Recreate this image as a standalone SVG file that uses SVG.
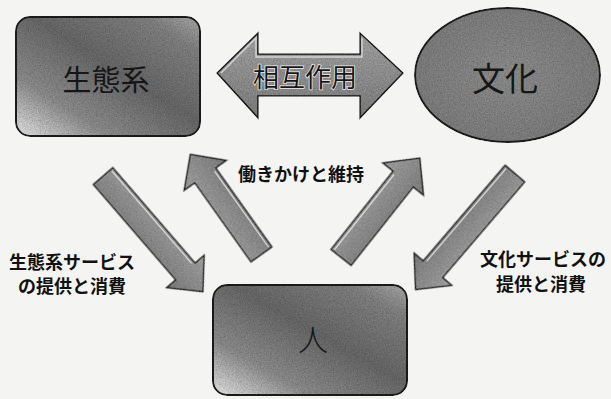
<svg xmlns="http://www.w3.org/2000/svg" width="611" height="399" viewBox="0 0 611 399">
<style>
.node{stroke:#1a1a1a;stroke-width:2}
.arrow{fill:url(#arrowFill);stroke:#151515;stroke-width:1.6;stroke-linejoin:miter}
.hl{fill:none;stroke:#e6e6e6;stroke-width:1.4;opacity:.8}
.ntext{font-family:"Noto Sans CJK JP","Noto Sans CJK SC",sans-serif;fill:#161616;text-anchor:middle;dominant-baseline:central}
.lbl{font-family:"Noto Sans CJK JP","Noto Sans CJK SC",sans-serif;font-weight:bold;font-size:18px;fill:#111;text-anchor:middle;dominant-baseline:central}
</style>
<defs>
<filter id="grain" x="-2%" y="-2%" width="104%" height="104%">
<feTurbulence type="fractalNoise" baseFrequency="0.75" numOctaves="2" seed="5" result="n"/>
<feColorMatrix in="n" type="saturate" values="0" result="g0"/>
<feComponentTransfer in="g0" result="g">
<feFuncR type="linear" slope="0.6" intercept="0.2"/>
<feFuncG type="linear" slope="0.6" intercept="0.2"/>
<feFuncB type="linear" slope="0.6" intercept="0.2"/>
<feFuncA type="linear" slope="0" intercept="1"/>
</feComponentTransfer>
<feBlend in="g" in2="SourceGraphic" mode="overlay" result="b"/>
<feComposite in="b" in2="SourceAlpha" operator="in"/>
</filter>
<linearGradient id="rectFill" x1="0" y1="1" x2="1" y2="0">
<stop offset="0" stop-color="#dcdcdc"/>
<stop offset="0.25" stop-color="#858585"/>
<stop offset="0.55" stop-color="#626262"/>
<stop offset="0.85" stop-color="#7a7a7a"/>
<stop offset="1" stop-color="#a2a2a2"/>
</linearGradient>
<radialGradient id="ellFill" cx="0.5" cy="0.5" r="0.6">
<stop offset="0" stop-color="#858585"/>
<stop offset="1" stop-color="#747474"/>
</radialGradient>
<linearGradient id="arrowFill" x1="0" y1="0" x2="0" y2="1">
<stop offset="0" stop-color="#9c9c9c"/>
<stop offset="1" stop-color="#777"/>
</linearGradient>
</defs>
<rect width="611" height="399" fill="#f4f4f2"/>

<g id="node-ecosystem">
<rect class="node" x="16" y="17" width="184" height="119" rx="14" fill="url(#rectFill)" filter="url(#grain)"/>
<text class="ntext" x="106" y="78" font-size="29">生態系</text>
</g>

<g id="node-culture">
<ellipse class="node" cx="507.5" cy="75" rx="92.5" ry="67" fill="url(#ellFill)" filter="url(#grain)"/>
<text class="ntext" x="505" y="77" font-size="33">文化</text>
</g>

<g id="node-person">
<rect class="node" x="213" y="285" width="194" height="110" rx="14" fill="url(#rectFill)" filter="url(#grain)"/>
<text class="ntext" x="313" y="338" font-size="30" font-weight="300">人</text>
</g>

<g id="connectors">
<g id="interaction">
<polygon class="arrow" points="217,73 258,33 258,54 360,54 360,33 403,73 360,118 360,96 258,96 258,118" filter="url(#grain)"/>
<polyline class="hl" points="221,73 256,38 256,57 362,57 362,38"/>
<text class="ntext" x="305" y="75" font-size="26" stroke="#eee" stroke-width="1.5" paint-order="stroke">相互作用</text>
</g>
<g transform="translate(103,176) rotate(49.2)">
<polygon class="arrow" points="0,-13 126,-13 126,-25 153,0 126,25 126,13 0,13" filter="url(#grain)"/>
<polyline class="hl" points="2,-10 124,-10"/>
</g>
<g transform="translate(261.5,254.5) rotate(-125.4)">
<polygon class="arrow" points="0,-13 97,-13 97,-26 123,0 97,26 97,13 0,13" filter="url(#grain)"/>
<polyline class="hl" points="2,10 95,10"/>
</g>
<g transform="translate(341,257.5) rotate(-51.6)">
<polygon class="arrow" points="0,-13 100,-13 100,-26 127,0 100,26 100,13 0,13" filter="url(#grain)"/>
<polyline class="hl" points="2,-10 98,-10"/>
</g>
<g transform="translate(515,173.5) rotate(130.6)">
<polygon class="arrow" points="0,-13 126,-13 126,-25 153,0 126,25 126,13 0,13" filter="url(#grain)"/>
<polyline class="hl" points="2,10 124,10"/>
</g>
</g>

<g id="labels">
<text class="lbl" x="301" y="173">働きかけと維持</text>
<text class="lbl" x="72" y="261">生態系サービス</text>
<text class="lbl" x="72" y="285">の提供と消費</text>
<text class="lbl" x="543" y="258">文化サービスの</text>
<text class="lbl" x="541" y="283">提供と消費</text>
</g>
</svg>
